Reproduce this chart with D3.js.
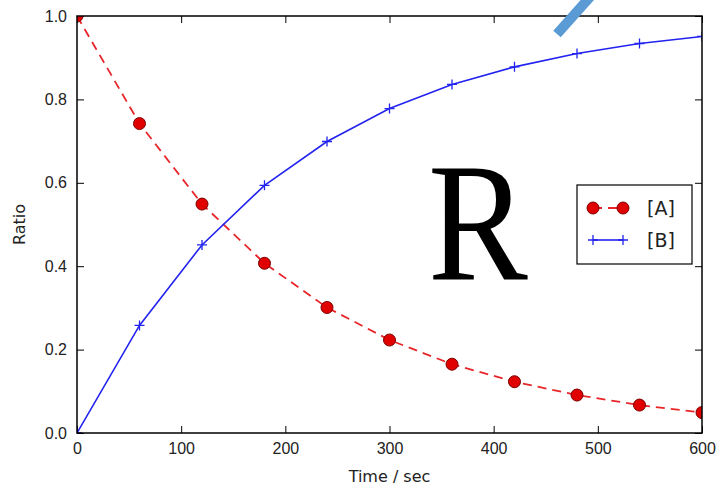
<!DOCTYPE html>
<html>
<head>
<meta charset="utf-8">
<script src="https://cdn.jsdelivr.net/npm/d3@7"></script>
<style>
  body { margin: 0; background: #fff; }
  svg { display: block; font-family: "DejaVu Sans", sans-serif; }
</style>
</head>
<body>
<div id="chart"></div>
<script>
// values
const times = [0, 60, 120, 180, 240, 300, 360, 420, 480, 540, 600];
const ratioA = [1.0, 0.742, 0.549, 0.407, 0.301, 0.223, 0.165, 0.123, 0.091, 0.067, 0.049];
const ratioB = [0.0, 0.258, 0.451, 0.594, 0.699, 0.778, 0.836, 0.878, 0.910, 0.934, 0.951];
const xTicks = [0, 100, 200, 300, 400, 500, 600];
const yTicks = [0.0, 0.2, 0.4, 0.6, 0.8, 1.0];
const seriesNames = ["[A]", "[B]"];

const width = 722, height = 490;
const margin = { top: 16, right: 20, bottom: 57, left: 77 };
const innerW = width - margin.left - margin.right;
const innerH = height - margin.top - margin.bottom;

const svg = d3.select("#chart").append("svg")
  .attr("width", width)
  .attr("height", height);

const x = d3.scaleLinear().domain([0, 600]).range([0, innerW]);
const y = d3.scaleLinear().domain([0, 1]).range([innerH, 0]);

const g = svg.append("g").attr("transform", `translate(${margin.left},${margin.top})`);

svg.append("defs").append("clipPath").attr("id", "plotclip")
  .append("rect").attr("width", innerW).attr("height", innerH);

// ticks inward on all four sides
function tickAxis(axis, cls, tr) {
  const a = g.append("g").attr("class", cls).attr("transform", tr).call(axis);
  a.select(".domain").remove();
  a.selectAll("line").attr("stroke", "#000").attr("stroke-width", 1);
  a.selectAll("text").attr("font-size", 16).attr("fill", "#222");
  return a;
}
tickAxis(d3.axisBottom(x).tickValues(xTicks).tickSize(-7).tickPadding(10).tickFormat(d3.format("d")),
  "x-bottom", `translate(0,${innerH})`);
tickAxis(d3.axisTop(x).tickValues(xTicks).tickSize(-7).tickFormat(""), "x-top", "translate(0,0)");
tickAxis(d3.axisLeft(y).tickValues(yTicks).tickSize(-7).tickPadding(10).tickFormat(d3.format(".1f")),
  "y-left", "translate(0,0)");
tickAxis(d3.axisRight(y).tickValues(yTicks).tickSize(-7).tickFormat(""), "y-right", `translate(${innerW},0)`);

const plot = g.append("g").attr("clip-path", "url(#plotclip)");

const dataA = times.map((t, i) => ({ t, v: ratioA[i] }));
const dataB = times.map((t, i) => ({ t, v: ratioB[i] }));
const line = d3.line().x(d => x(d.t)).y(d => y(d.v));

plot.append("path").datum(dataA)
  .attr("d", line).attr("fill", "none")
  .attr("stroke", "#e8262a").attr("stroke-width", 1.8)
  .attr("stroke-dasharray", "9,6");

plot.append("path").datum(dataB)
  .attr("d", line).attr("fill", "none")
  .attr("stroke", "#2323f0").attr("stroke-width", 1.6);

plot.selectAll("circle.a").data(dataA).join("circle")
  .attr("class", "a")
  .attr("cx", d => x(d.t)).attr("cy", d => y(d.v)).attr("r", 6)
  .attr("fill", "#e00000").attr("stroke", "#7a0000").attr("stroke-width", 1);

plot.selectAll("path.b").data(dataB).join("path")
  .attr("class", "b")
  .attr("d", d => `M${x(d.t) - 5},${y(d.v)}H${x(d.t) + 5}M${x(d.t)},${y(d.v) - 5}V${y(d.v) + 5}`)
  .attr("stroke", "#2323f0").attr("stroke-width", 1.3);

// frame
g.append("rect").attr("width", innerW).attr("height", innerH)
  .attr("fill", "none").attr("stroke", "#000").attr("stroke-width", 1.5);

// axis labels
svg.append("text").attr("x", margin.left + innerW / 2).attr("y", 482)
  .attr("text-anchor", "middle").attr("font-size", 16).attr("fill", "#222").text("Time / sec");
svg.append("text").attr("transform", `translate(25,${margin.top + innerH / 2}) rotate(-90)`)
  .attr("text-anchor", "middle").attr("font-size", 16).attr("fill", "#222").text("Ratio");

// legend
const lg = svg.append("g").attr("transform", "translate(577,185)");
lg.append("rect").attr("width", 115).attr("height", 79)
  .attr("fill", "#fff").attr("stroke", "#000").attr("stroke-width", 1.2);
const rowA = lg.append("g").attr("transform", "translate(0,23)");
rowA.append("line").attr("x1", 16).attr("x2", 46)
  .attr("stroke", "#e8262a").attr("stroke-width", 1.8).attr("stroke-dasharray", "9,6");
rowA.selectAll("circle").data([16, 46]).join("circle")
  .attr("cx", d => d).attr("cy", 0).attr("r", 6)
  .attr("fill", "#e00000").attr("stroke", "#7a0000").attr("stroke-width", 1);
rowA.append("text").attr("x", 70).attr("y", 7).attr("font-size", 19).attr("fill", "#222").text(seriesNames[0]);
const rowB = lg.append("g").attr("transform", "translate(0,55)");
rowB.append("line").attr("x1", 16).attr("x2", 46)
  .attr("stroke", "#2323f0").attr("stroke-width", 1.6);
rowB.selectAll("path").data([16, 46]).join("path")
  .attr("d", d => `M${d - 5},0H${d + 5}M${d},-5V5`)
  .attr("stroke", "#2323f0").attr("stroke-width", 1.3);
rowB.append("text").attr("x", 70).attr("y", 7).attr("font-size", 19).attr("fill", "#222").text(seriesNames[1]);

// big serif letter
svg.append("text").attr("transform", "translate(428,280) scale(0.88,1)")
  .attr("font-family", "'Liberation Serif', 'DejaVu Serif', serif")
  .attr("font-size", 170).attr("fill", "#000").text("R");

// blue diagonal stroke near the top
svg.append("line").attr("x1", 557).attr("y1", 34).attr("x2", 598).attr("y2", -12)
  .attr("stroke", "#5b9bd5").attr("stroke-width", 10);
</script>
</body>
</html>
